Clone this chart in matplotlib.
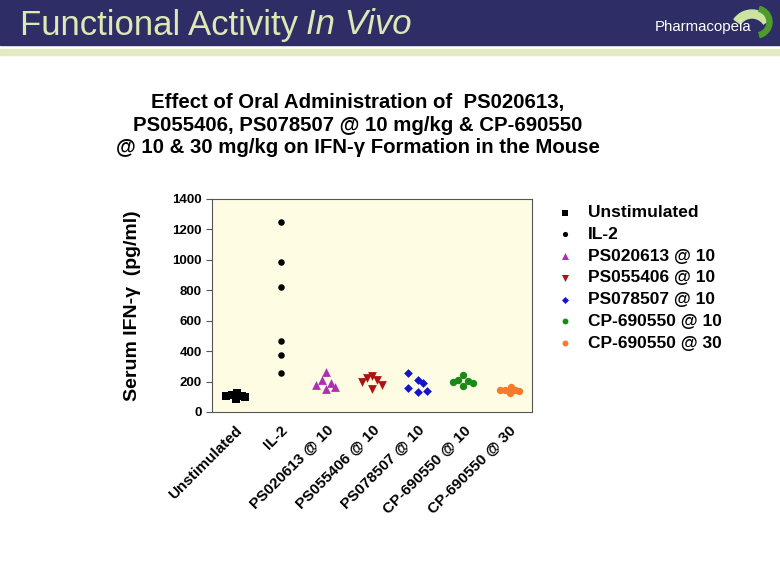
import matplotlib.pyplot as plt
from matplotlib.patches import Rectangle, Wedge

groups = ['Unstimulated', 'IL-2', 'PS020613 @ 10', 'PS055406 @ 10',
          'PS078507 @ 10', 'CP-690550 @ 10', 'CP-690550 @ 30']

# serum IFN-gamma values (pg/ml)
unstim = [103, 110, 125, 85, 103, 96]
il2 = [1249, 984, 824, 469, 372, 256]
ps020613 = [177, 208, 263, 191, 151, 164]
ps055406 = [199, 221, 239, 153, 208, 180]
ps078507 = [258, 156, 208, 191, 131, 138]
cp10 = [199, 212, 241, 171, 202, 191]
cp30 = [145, 145, 125, 162, 147, 140]

# horizontal scatter of the points inside each column
unstim_jit = [-0.2, -0.07, 0.04, 0.02, 0.15, 0.22]
il2_jit = [0, 0, 0, 0, 0, 0]
ps020613_jit = [-0.22, -0.1, 0, 0.11, 0, 0.2]
ps055406_jit = [-0.21, -0.1, 0, 0, 0.12, 0.22]
ps078507_jit = [-0.21, -0.21, 0, 0.12, 0, 0.21]
cp10_jit = [-0.22, -0.11, 0, 0, 0.11, 0.22]
cp30_jit = [-0.2, -0.1, 0.01, 0.05, 0.12, 0.21]

values = [unstim, il2, ps020613, ps055406, ps078507, cp10, cp30]
jitter = [unstim_jit, il2_jit, ps020613_jit, ps055406_jit, ps078507_jit, cp10_jit, cp30_jit]
markers = ['s', 'o', '^', 'v', 'D', 'o', 'o']
sizes = [30, 22, 40, 40, 20, 28, 28]
colors = ['black', 'black', '#B02FB0', '#B01212', '#1414C8', '#178A17', '#F57A2A']

plt.rcParams['font.family'] = ['Liberation Sans', 'DejaVu Sans']

fig = plt.figure(figsize=(7.8, 5.87), dpi=100)
W, H = 780.0, 587.0

# header band
fig.patches.append(Rectangle((0, 1 - 45 / H), 1, 45 / H, transform=fig.transFigure,
                             color='#2E2D66', zorder=0))
fig.patches.append(Rectangle((0, 1 - 55 / H), 1, 6 / H, transform=fig.transFigure,
                             color='#E2EBC2', zorder=0))
fig.text(20 / W, 1 - 25 / H, 'Functional Activity ', color='#DDE8B4', fontsize=25,
         va='center', ha='left')
fig.text(306 / W, 1 - 25 / H, 'In Vivo', color='#DDE8B4', fontsize=25, style='italic',
         va='center', ha='left')

# logo crescents
logo = fig.add_axes([712 / W, 1 - 44 / H, 66 / W, 44 / H], zorder=5)
logo.set_xlim(0, 66)
logo.set_ylim(0, 44)
logo.set_aspect('equal')
logo.axis('off')
logo.add_patch(Wedge((40, 12), 22, 35, 145, width=8, color='#CDE3A0'))
logo.add_patch(Wedge((44, 22), 16, -75, 75, width=5, color='#4E9A2A'))
fig.text(655 / W, 1 - 27 / H, 'Pharmacopeia', color='white', fontsize=10.8,
         va='center', ha='left', zorder=6)

ax = fig.add_axes([212 / W, 175 / H, 320 / W, 213 / H])
ax.set_facecolor('#FEFDE3')
for i in range(len(groups)):
    xs = [i + j for j in jitter[i]]
    ax.scatter(xs, values[i], marker=markers[i], s=sizes[i], color=colors[i],
               label=groups[i], zorder=3, linewidths=0)

ax.set_xlim(-0.5, 6.5)
ax.set_ylim(0, 1400)
ax.set_yticks(range(0, 1401, 200))
ax.set_xticks(range(len(groups)))
ax.set_xticklabels(groups, rotation=45, ha='right', rotation_mode='anchor',
                   fontsize=11, fontweight='bold')
for lab in ax.get_yticklabels():
    lab.set_fontweight('bold')
    lab.set_fontsize(9.5)
ax.tick_params(axis='x', length=0, pad=8)
ax.tick_params(axis='y', length=4, color='#555555')
for s in ax.spines.values():
    s.set_color('#555555')

ax.set_ylabel('Serum IFN-γ  (pg/ml)', fontsize=14, fontweight='bold', labelpad=22)

fig.text(358 / W, 1 - 125 / H,
         'Effect of Oral Administration of  PS020613,\n'
         'PS055406, PS078507 @ 10 mg/kg & CP-690550\n'
         '@ 10 & 30 mg/kg on IFN-γ Formation in the Mouse',
         ha='center', va='center', fontsize=14.7, fontweight='bold', linespacing=1.25)

leg = ax.legend(loc='upper left', bbox_to_anchor=(1.0, 1.045), frameon=False,
                prop={'weight': 'bold', 'size': 12.5}, markerscale=0.8,
                handletextpad=0.3, labelspacing=0.38, borderaxespad=0.5)

fig.savefig('out.png', dpi=100)
